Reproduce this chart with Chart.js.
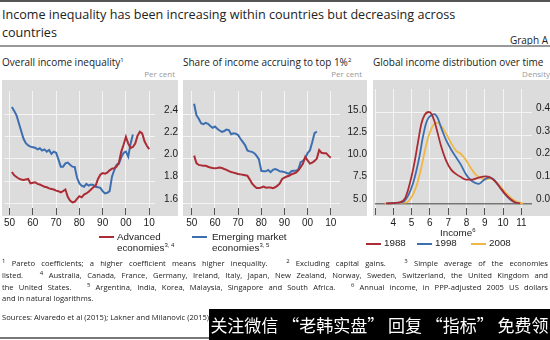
<!DOCTYPE html>
<html>
<head>
<meta charset="utf-8">
<script src="https://cdn.jsdelivr.net/npm/chart.js@4.4.1/dist/chart.umd.min.js"></script>
<style>
  html, body { margin: 0; padding: 0; background: #fff; }
  #page { position: relative; width: 550px; height: 340px; overflow: hidden; font-family: "Open Sans", "Noto Sans", sans-serif; color: #222; }
  .abs { position: absolute; white-space: nowrap; }
  .ptitle { font-size: 10px; line-height: 14px; top: 55px; }
  .unit { font-size: 8px; line-height: 10px; top: 69px; color: #999; text-align: right; }
  sup { font-size: 6px; vertical-align: top; position: relative; top: -2px; }
  .leg { font-family: "Liberation Sans", Arial, sans-serif; font-size: 9.8px; line-height: 11px; }
  .sw { position: absolute; height: 2px; width: 15px; }
  .foot { font-size: 7.6px; line-height: 11.7px; left: 2px; width: 546px; text-align: justify; text-align-last: justify; white-space: nowrap; }
  canvas { position: absolute; top: 80px; }
</style>
</head>
<body>
<div id="page">
  <div class="abs" style="left:0;top:0;width:550px;height:2px;background:#555"></div>
  <div class="abs" style="left:2px;top:6px;font-size:12.6px;line-height:18px">Income inequality has been increasing within countries but decreasing across</div>
  <div class="abs" style="left:2px;top:24px;font-size:12.6px;line-height:18px">countries</div>
  <div class="abs" style="right:2px;top:33px;font-size:10px;line-height:14px">Graph A</div>
  <div class="abs" style="left:0;top:45px;width:550px;height:2px;background:#999"></div>

  <div class="abs ptitle" style="left:2px">Overall income inequality<sup>1</sup></div>
  <div class="abs ptitle" style="left:183px">Share of income accruing to top 1%<sup>2</sup></div>
  <div class="abs ptitle" style="left:373px">Global income distribution over time</div>
  <div class="abs unit" style="right:375px">Per cent</div>
  <div class="abs unit" style="right:188px">Per cent</div>
  <div class="abs unit" style="right:0">Density</div>

  <canvas id="c1" width="176" height="152" style="left:2px"></canvas>
  <canvas id="c2" width="184" height="152" style="left:183px"></canvas>
  <canvas id="c3" width="177" height="152" style="left:373px"></canvas>

  <div class="sw" style="left:99px;top:236px;background:#ab2c34"></div>
  <div class="abs leg" style="left:117px;top:231px">Advanced<br>economies<sup>3, 4</sup></div>
  <div class="sw" style="left:192px;top:236px;background:#3d6fb0"></div>
  <div class="abs leg" style="left:212px;top:231px">Emerging market<br>economies<sup>3, 5</sup></div>

  <div class="abs leg" style="left:440px;top:227px">Income<sup>6</sup></div>
  <div class="sw" style="left:366px;top:243px;background:#ab2c34"></div>
  <div class="abs leg" style="left:384px;top:237px">1988</div>
  <div class="sw" style="left:417px;top:243px;background:#3d6fb0"></div>
  <div class="abs leg" style="left:435px;top:237px">1998</div>
  <div class="sw" style="left:471px;top:243px;background:#eeb748"></div>
  <div class="abs leg" style="left:489px;top:237px">2008</div>

  <div class="abs foot" style="top:258px"><sup>1</sup> Pareto coefficients; a higher coefficient means higher inequality. &nbsp; <sup>2</sup> Excluding capital gains. &nbsp; <sup>3</sup> Simple average of the economies</div>
  <div class="abs foot" style="top:270px">listed. &nbsp; <sup>4</sup> Australia, Canada, France, Germany, Ireland, Italy, Japan, New Zealand, Norway, Sweden, Switzerland, the United Kingdom and</div>
  <div class="abs foot" style="top:282px">the United States. &nbsp; <sup>5</sup> Argentina, India, Korea, Malaysia, Singapore and South Africa. &nbsp; <sup>6</sup> Annual income, in PPP-adjusted 2005 US dollars</div>
  <div class="abs foot" style="top:293px;text-align-last:left">and in natural logarithms.</div>
  <div class="abs foot" style="top:312px;text-align-last:left">Sources: Alvaredo et al (2015); Lakner and Milanovic (2015); BIS calculations.</div>
  <div class="abs" style="left:0;top:337px;width:550px;height:2px;background:#777"></div>

  <div class="abs" style="left:209px;top:309px;width:341px;height:31px;background:#000;color:#fff;font-family:'Noto Sans CJK SC',sans-serif;font-size:17px;line-height:31px;text-align:center">关注微信 “老韩实盘” 回复 “指标” 免费领</div>
</div>

<script>
// Panel 1: overall income inequality (Pareto coefficients), annual from 1951
const advInequality = [1.882, 1.852, 1.837, 1.822, 1.815, 1.81, 1.815, 1.82, 1.78, 1.785,
  1.79, 1.775, 1.77, 1.76, 1.75, 1.745, 1.735, 1.73, 1.725, 1.715,
  1.71, 1.70, 1.71, 1.725, 1.66, 1.625, 1.61, 1.615, 1.64, 1.665,
  1.655, 1.68, 1.69, 1.705, 1.725, 1.745, 1.76, 1.82, 1.857, 1.872,
  1.867, 1.877, 1.897, 1.912, 1.917, 1.932, 1.967, 2.065, 2.127, 2.198,
  2.137, 2.097, 2.107, 2.138, 2.208, 2.243, 2.228, 2.158, 2.118, 2.088];
const emeInequality = [2.465, 2.43, 2.39, 2.32, 2.25, 2.18, 2.14, 2.12, 2.11, 2.105,
  2.10, 2.085, 2.095, 2.075, 2.085, 2.065, 2.08, 2.045, 2.065, 2.055,
  1.995, 1.93, 1.93, 1.96, 1.967, 1.947, 1.93, 1.927, 1.83, 1.78,
  1.76, 1.75, 1.775, 1.76, 1.77, 1.765, 1.75, 1.745, 1.74, 1.71,
  1.69, 1.695, 1.71, 1.84, 1.90, 1.947, 1.957, 2.015, 2.055, 2.065,
  2.02, 2.135, 2.218];

// Panel 2: share of income accruing to top 1%, annual from 1951
const advTop1 = [10.36, 9.52, 9.32, 9.27, 9.22, 9.22, 9.12, 9.02, 8.97, 8.94,
  8.97, 9.02, 8.97, 8.86, 8.76, 8.63, 8.53, 8.46, 8.39, 8.31,
  8.26, 8.21, 8.16, 8.11, 7.7, 7.24, 6.94, 6.74, 6.72, 6.79,
  6.89, 6.77, 6.79, 6.79, 6.72, 6.81, 6.99, 7.24, 7.74, 7.9,
  8.02, 8.1, 8.26, 8.36, 8.46, 8.71, 9.06, 9.47, 10.23, 9.82,
  9.47, 9.57, 9.77, 10.03, 10.98, 10.69, 10.64, 10.64, 10.36, 10.12];
const emeTop1 = [16.18, 14.9, 14.5, 13.99, 13.89, 14.04, 13.94, 13.69, 13.48, 13.63,
  13.38, 13.18, 13.03, 13.13, 13.28, 13.23, 12.77, 12.87, 12.82, 12.67,
  12.26, 11.9, 11.55, 10.94, 10.84, 10.79, 10.64, 10.33, 9.93, 8.66,
  8.61, 8.61, 8.76, 8.51, 8.76, 8.86, 8.76, 8.61, 8.59, 8.51,
  8.41, 8.33, 8.61, 8.66, 8.66, 8.81, 9.62, 9.77, 10.08, 10.64,
  10.94, 11.86, 12.88, 13.06];
const firstYear = 1951;

// Panel 3: global income distribution (log income vs density)
const income1988 = [3.6, 4.36, 4.63, 4.81, 4.99, 5.17, 5.35, 5.53, 5.71, 5.94, 6.07, 6.25, 6.43, 6.61, 6.88,
  7.15, 7.42, 7.69, 7.96, 8.32, 8.68, 9.04, 9.31, 9.58, 9.85, 10.12, 10.39, 10.66, 10.93];
const density1988 = [0, 0.004, 0.02, 0.06, 0.116, 0.185, 0.27, 0.35, 0.39, 0.403, 0.397, 0.362, 0.308, 0.253, 0.19,
  0.15, 0.13, 0.116, 0.105, 0.105, 0.114, 0.119, 0.114, 0.096, 0.068, 0.041, 0.02, 0.004, 0];
const income1998 = [3.64, 4.54, 4.81, 5.08, 5.26, 5.44, 5.62, 5.8, 5.98, 6.16, 6.25, 6.43, 6.61, 6.88, 7.15,
  7.42, 7.69, 7.96, 8.23, 8.5, 8.68, 8.95, 9.22, 9.49, 9.76, 10.03, 10.3, 10.57, 10.84];
const density1998 = [0, 0.007, 0.034, 0.089, 0.144, 0.212, 0.294, 0.356, 0.383, 0.392, 0.394, 0.376, 0.335, 0.28, 0.239,
  0.205, 0.171, 0.13, 0.103, 0.089, 0.086, 0.103, 0.114, 0.105, 0.078, 0.048, 0.023, 0.007, 0];
const income2008 = [3.53, 4.72, 4.99, 5.26, 5.53, 5.71, 5.89, 6.07, 6.25, 6.43, 6.61, 6.88, 7.15, 7.42,
  7.69, 7.96, 8.23, 8.5, 8.77, 9.04, 9.31, 9.58, 9.85, 10.12, 10.48, 10.84, 11.1];
const density2008 = [0, 0.004, 0.027, 0.075, 0.157, 0.226, 0.287, 0.328, 0.352, 0.356, 0.342, 0.308, 0.267, 0.233,
  0.219, 0.192, 0.157, 0.127, 0.114, 0.105, 0.11, 0.096, 0.075, 0.048, 0.02, 0.004, 0];

// Axis ticks
const yearTicks = [1950, 1960, 1970, 1980, 1990, 2000, 2010];
const yearLabels = ['50', '60', '70', '80', '90', '00', '10'];
const ineqTicks = [1.6, 1.8, 2.0, 2.2, 2.4];
const ineqLabels = ['1.6', '1.8', '2.0', '2.2', '2.4'];
const top1Ticks = [5, 7.5, 10, 12.5, 15];
const top1Labels = ['5.0', '7.5', '10.0', '12.5', '15.0'];
const incomeTicks = [3, 4, 5, 6, 7, 8, 9, 10, 11];
const incomeLabels = ['', '4', '5', '6', '7', '8', '9', '10', '11'];
const densityTicks = [0, 0.1, 0.2, 0.3, 0.4];
const densityLabels = ['0.0', '0.1', '0.2', '0.3', '0.4'];

const RED = '#ab2c34';
const BLUE = '#3d6fb0';
const YELLOW = '#eeb748';

Chart.defaults.font.family = '"Liberation Sans", Arial, sans-serif';
Chart.defaults.font.size = 10;
Chart.defaults.color = '#1a1a1a';

const panelBg = {
  id: 'panelBg',
  beforeDraw(chart) {
    const { ctx, chartArea } = chart;
    ctx.save();
    ctx.fillStyle = '#dcdcdc';
    ctx.fillRect(0, 0, chart.width, chartArea.bottom + 8);
    ctx.restore();
  }
};

function toPoints(xs, ys) {
  return ys.map((v, i) => ({ x: xs[i], y: v }));
}

function yearPoints(values) {
  return values.map((v, i) => ({ x: firstYear + i, y: v }));
}

function lineSet(data, color, width, smooth) {
  return {
    data: data,
    borderColor: color,
    borderWidth: width,
    pointRadius: 0,
    fill: false,
    tension: smooth ? 0.4 : 0,
    cubicInterpolationMode: smooth ? 'monotone' : 'default'
  };
}

function makePanel(id, datasets, xs, ys) {
  return new Chart(document.getElementById(id), {
    type: 'line',
    data: { datasets: datasets },
    plugins: [panelBg],
    options: {
      responsive: false,
      animation: false,
      events: [],
      layout: { padding: 0 },
      plugins: { legend: { display: false }, tooltip: { enabled: false } },
      scales: {
        x: {
          type: 'linear',
          min: xs.min,
          max: xs.max,
          afterBuildTicks: (s) => { s.ticks = xs.ticks.map(v => ({ value: v })); },
          afterFit: (s) => { s.height = 24; },
          ticks: { autoSkip: false, maxRotation: 0, padding: 2, callback: (v, i) => xs.labels[i] },
          grid: { color: '#f4f4f4', lineWidth: 1, tickColor: '#555', tickLength: 7 },
          border: { display: false }
        },
        y: {
          position: 'right',
          min: ys.min,
          max: ys.max,
          afterBuildTicks: (s) => { s.ticks = ys.ticks.map(v => ({ value: v })); },
          afterFit: (s) => { s.width = ys.width; },
          ticks: { padding: ys.pad, labelOffset: -4.5, crossAlign: 'far', callback: (v, i) => ys.labels[i] },
          grid: {
            drawTicks: false,
            color: ys.zeroLine ? (c) => (c.tick && c.tick.value === 0 ? '#777' : '#f4f4f4') : '#f4f4f4',
            lineWidth: ys.zeroLine ? (c) => (c.tick && c.tick.value === 0 ? 1.5 : 1) : 1
          },
          border: { display: false }
        }
      }
    }
  });
}

makePanel('c1', [
  lineSet(yearPoints(advInequality), RED, 2, false),
  lineSet(yearPoints(emeInequality), BLUE, 2, false)
], { min: 1947.9, max: 2012.5, ticks: yearTicks, labels: yearLabels },
   { min: 1.559, max: 2.609, ticks: ineqTicks, labels: ineqLabels, width: 23, pad: 5 });

makePanel('c2', [
  lineSet(yearPoints(advTop1), RED, 2, false),
  lineSet(yearPoints(emeTop1), BLUE, 2, false)
], { min: 1946.2, max: 2014.0, ticks: yearTicks, labels: yearLabels },
   { min: 4.487, max: 17.615, ticks: top1Ticks, labels: top1Labels, width: 27, pad: 5 });

makePanel('c3', [
  lineSet(toPoints(income1988, density1988), RED, 1.8, true),
  lineSet(toPoints(income1998, density1998), BLUE, 1.8, true),
  lineSet(toPoints(income2008, density2008), YELLOW, 1.8, true)
], { min: 3, max: 11.58, ticks: incomeTicks, labels: incomeLabels },
   { min: -0.0205, max: 0.5046, ticks: densityTicks, labels: densityLabels, width: 18, pad: 3, zeroLine: true });
</script>
</body>
</html>
